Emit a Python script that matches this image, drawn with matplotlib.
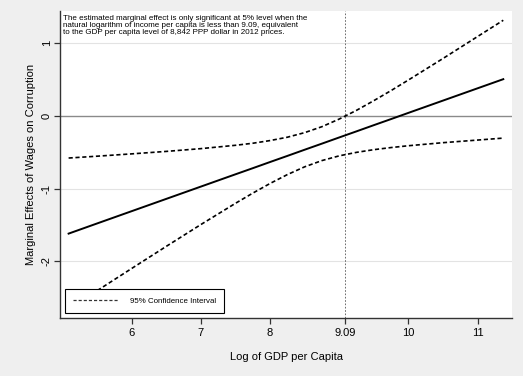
import matplotlib
matplotlib.use("Agg")
import matplotlib.pyplot as plt

plt.rcParams["font.family"] = ["Liberation Sans", "DejaVu Sans"]
plt.rcParams["axes.unicode_minus"] = False

# values
log_gdp = [5.09, 5.5, 6.0, 6.5, 7.0, 7.5, 7.75, 8.0, 8.25, 8.5, 8.75, 9.0, 9.25,
           9.5, 9.75, 10.0, 10.5, 11.0, 11.37]
marginal = [-1.620, -1.481, -1.312, -1.143, -0.974, -0.805, -0.721, -0.636, -0.552,
            -0.467, -0.383, -0.298, -0.214, -0.129, -0.045, 0.040, 0.209, 0.378, 0.503]
ci_upper = [-0.581, -0.556, -0.524, -0.490, -0.452, -0.406, -0.378, -0.341, -0.295,
            -0.232, -0.150, -0.045, 0.075, 0.208, 0.347, 0.492, 0.788, 1.090, 1.313]
ci_lower = [-2.659, -2.406, -2.100, -1.796, -1.496, -1.204, -1.064, -0.931, -0.809,
            -0.702, -0.616, -0.551, -0.503, -0.466, -0.437, -0.412, -0.370, -0.334, -0.307]

threshold = 9.09
x_ticks = [6, 7, 8, 9.09, 10, 11]
x_ticklabels = ["6", "7", "8", "9.09", "10", "11"]
y_ticks = [-2, -1, 0, 1]
note = ("The estimated marginal effect is only significant at 5% level when the\n"
        "natural logarithm of income per capita is less than 9.09, equivalent\n"
        "to the GDP per capita level of 8,842 PPP dollar in 2012 prices.")

fig = plt.figure(figsize=(5.23, 3.76), dpi=100, facecolor="#efefef")
ax = fig.add_axes([0.1153, 0.1543, 0.8642, 0.8164])
ax.set_facecolor("white")

ax.set_xlim(4.97, 11.5)
ax.set_ylim(-2.78, 1.44)

for y in [1, -1, -2]:
    ax.axhline(y, color="#e3e3e3", lw=0.8, zorder=1)
ax.axhline(0, color="#8a8a8a", lw=1.0, zorder=1)
ax.axvline(threshold, color="#555555", lw=0.6, dashes=(2, 2), zorder=2)

ax.plot(log_gdp, marginal, color="black", lw=1.4, zorder=3)
ax.plot(log_gdp, ci_upper, color="black", lw=1.2, dashes=(2.5, 1.6), zorder=3,
        label="95% Confidence Interval")
ax.plot(log_gdp, ci_lower, color="black", lw=1.2, dashes=(2.5, 1.6), zorder=3)

ax.text(0.006, 0.988, note, transform=ax.transAxes, ha="left", va="top",
        fontsize=5.8, linespacing=0.98, zorder=4)

leg = ax.legend(loc="lower left", bbox_to_anchor=(0.0104, 0.0153, 0.352, 0.0847),
                mode="expand", borderaxespad=0, fontsize=5.7, handlelength=5.8,
                handletextpad=1.4, borderpad=1.05, fancybox=False, framealpha=1)
leg.get_frame().set_edgecolor("black")
leg.get_frame().set_linewidth(0.8)
leg.get_lines()[0].set_linewidth(0.9)
leg.get_lines()[0].set_color("#333333")
leg.set_zorder(5)

for side in ["top", "right"]:
    ax.spines[side].set_visible(False)
for side in ["left", "bottom"]:
    ax.spines[side].set_color("#333333")
    ax.spines[side].set_linewidth(1.0)

ax.set_xticks(x_ticks)
ax.set_xticklabels(x_ticklabels)
ax.set_yticks(y_ticks)
ax.set_yticklabels([str(v) for v in y_ticks], rotation=90, va="center")
ax.tick_params(axis="x", direction="out", length=4, width=0.9, color="#333333",
               labelsize=8, pad=3)
ax.tick_params(axis="y", direction="out", length=4, width=0.9, color="#333333",
               labelsize=8, pad=2)

ax.set_xlabel("Log of GDP per Capita", fontsize=8, labelpad=10)
ax.set_ylabel("Marginal Effects of Wages on Corruption", fontsize=8, labelpad=4)

fig.savefig("out.png", dpi=100, facecolor=fig.get_facecolor())
